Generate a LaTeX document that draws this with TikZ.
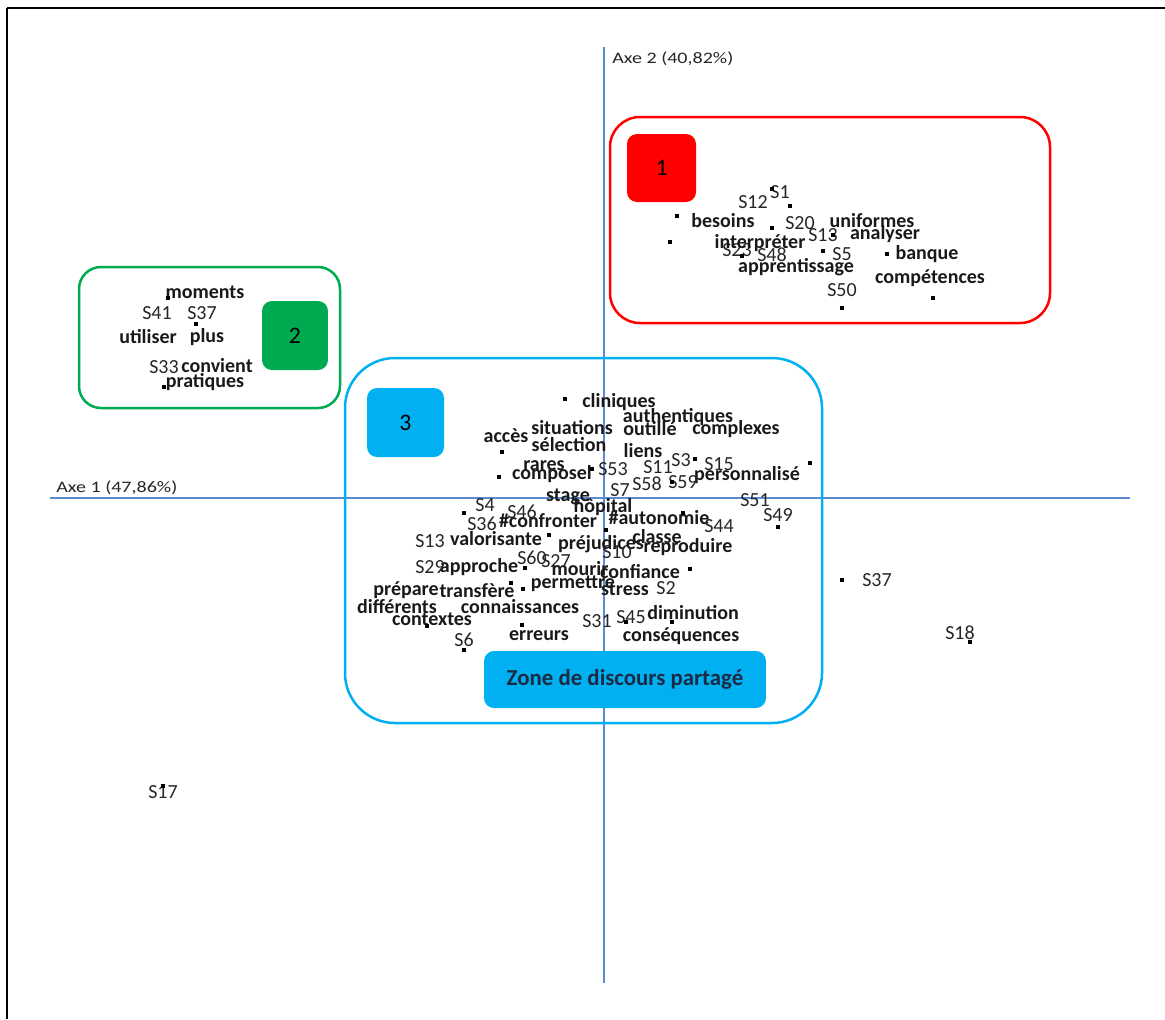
\documentclass[tikz,border=0pt]{standalone}
\usepackage{fontspec}
\setmainfont{Carlito}
\definecolor{axisblue}{HTML}{5B8BD0}
\definecolor{redA}{HTML}{FF0000}
\definecolor{greenA}{HTML}{00AA50}
\definecolor{blueA}{HTML}{00B0F0}
\definecolor{navy}{HTML}{1C2B45}
\newcommand\lblsize{\fontsize{11.38}{13}\selectfont}
\newcommand\axsize{\fontsize{11.4}{13}\selectfont}
\tikzset{
  wd/.style={font=\lblsize\bfseries, inner sep=0pt, text=black!90},
  sl/.style={font=\lblsize, inner sep=0pt, text=black!85},
  axlbl/.style={font=\axsize, inner sep=0pt, anchor=west, text=black!85},
  numbox/.style={rounded corners=0.2cm, inner sep=0pt, font=\fontsize{13.5}{15}\selectfont, text=black},
  axisline/.style={draw=axisblue, line width=0.03cm},
}
% a data point of the factor map
\newcommand\pt[1]{\fill[black] ($(#1)+(-1.6,-1.6)$) rectangle ++(3.2,3.2);}
\usetikzlibrary{calc}
\begin{document}
\begin{tikzpicture}[x=0.02cm,y=-0.02cm]
\useasboundingbox (0,0) rectangle (1165,1019);
% frame
\draw[black, line width=0.05cm] (7,8) -- (1165,8);
\draw[black, line width=0.03cm] (7,8) -- (7,1019);

% axes
\draw[axisline] (50,498) -- (1130,498);
\draw[axisline] (604,47) -- (604,983);
\node[axlbl] (ax1) at (56,488) {\scalebox{1}[0.8]{Axe 1 (47,86\%)}};
\node[axlbl] (ax2) at (612,59) {\scalebox{1}[0.8]{Axe 2 (40,82\%)}};

% cluster outlines
\draw[redA, line width=0.05cm, rounded corners=0.6cm] (610,117) rectangle (1050,323);
\draw[greenA, line width=0.05cm, rounded corners=0.44cm] (79,267) rectangle (340,408);
\draw[blueA, line width=0.05cm, rounded corners=1cm] (345,358) rectangle (822,723);

% cluster tags
\node[numbox, fill=redA, minimum width=1.38cm, minimum height=1.36cm] (t1) at (661.5,168) {1};
\node[numbox, fill=greenA, minimum width=1.32cm, minimum height=1.38cm] (t2) at (295,335.5) {2};
\node[numbox, fill=blueA, minimum width=1.54cm, minimum height=1.38cm] (t3) at (405.5,422.5) {3};
\node[numbox, fill=blueA, minimum width=5.64cm, minimum height=1.14cm, font=\fontsize{13}{15}\selectfont\bfseries, text=navy] (zone) at (625,679.5) {Zone de discours partagé};

% ---- class 1
\node[sl] (r-s12) at (753,202) {S12};
\node[sl] (r-s1) at (780,192) {S1};
\node[sl] (r-s20) at (800,223) {S20};
\node[sl] (r-s13) at (823,235) {S13};
\node[sl] (r-s23) at (737,250) {S23};
\node[sl] (r-s48) at (772,255) {S48};
\node[sl] (r-s5) at (842,254) {S5};
\node[sl] (r-s50) at (842,290) {S50};
\node[wd] (r-besoins) at (723,221) {besoins};
\node[wd] (r-uniformes) at (872,221) {uniformes};
\node[wd] (r-interpreter) at (760,243) {interpréter};
\node[wd] (r-analyser) at (885,234) {analyser};
\node[wd] (r-banque) at (927,254) {banque};
\node[wd] (r-apprentissage) at (796,267) {apprentissage};
\node[wd] (r-competences) at (930,278) {compétences};
\foreach \p in {{790,206},{772,189},{677,216},{772,228},{670,242},{833,235},{742,256},{823,251},{887,254},{842,308},{933,298}}
  {\pt{\p}}

% ---- class 2
\node[wd] (g-moments) at (205,292) {moments};
\node[sl] (g-s41) at (157,313) {S41};
\node[sl] (g-s37) at (202,313) {S37};
\node[wd] (g-utiliser) at (148,337) {utiliser};
\node[wd] (g-plus) at (207,337) {plus};
\node[sl] (g-s33) at (164,367) {S33};
\node[wd] (g-convient) at (217,366) {convient};
\node[wd] (g-pratiques) at (205,382) {pratiques};
\foreach \p in {{168,298},{196,324},{164,387}}
  {\pt{\p}}

% ---- class 3 (shared discourse)
\node[wd] (b-cliniques) at (619,402) {cliniques};
\node[wd] (b-authentiques) at (678,417) {authentiques};
\node[wd] (b-situations) at (572,428) {situations};
\node[wd] (b-outille) at (650,429) {outillé};
\node[wd] (b-complexes) at (736,429) {complexes};
\node[wd] (b-acces) at (506,436) {accès};
\node[wd] (b-selection) at (569,445) {sélection};
\node[wd] (b-liens) at (643,451) {liens};
\node[wd] (b-rares) at (544,466) {rares};
\node[wd] (b-composel) at (552,474) {composel};
\node[wd] (b-personnalise) at (747,475) {personnalisé};
\node[wd] (b-stage) at (568,497) {stage};
\node[wd] (b-hopital) at (603,507) {hôpital};
\node[wd] (b-confronter) at (548,521) {\#confronter};
\node[wd] (b-autonomie) at (659,518) {\#autonomie};
\node[wd] (b-valorisante) at (496,539) {valorisante};
\node[wd] (b-classe) at (657,537) {classe};
\node[wd] (b-prejudices) at (601,544) {préjudices};
\node[wd] (b-reproduire) at (688,547) {reproduire};
\node[wd] (b-approche) at (479,567) {approche};
\node[wd] (b-mourir) at (580,569) {mourir};
\node[wd] (b-confiance) at (640,572) {confiance};
\node[wd] (b-permettre) at (573,584) {permettre};
\node[wd] (b-prepare) at (406,590) {prépare};
\node[wd] (b-transfere) at (477,591) {transfère};
\node[wd] (b-stress) at (625,589) {stress};
\node[wd] (b-differents) at (397,607) {différents};
\node[wd] (b-connaissances) at (520,607) {connaissances};
\node[wd] (b-diminution) at (693,613) {diminution};
\node[wd] (b-contextes) at (432,619) {contextes};
\node[wd] (b-erreurs) at (539,636) {erreurs};
\node[wd] (b-consequences) at (681,636) {conséquences};

\node[sl] (b-s53) at (613,469) {S53};
\node[sl] (b-s11) at (658,467) {S11};
\node[sl] (b-s3) at (681,460) {S3};
\node[sl] (b-s15) at (719,464) {S15};
\node[sl] (b-s58) at (647,484) {S58};
\node[sl] (b-s59) at (683,482) {S59};
\node[sl] (b-s7) at (620,490) {S7};
\node[sl] (b-s51) at (755,500) {S51};
\node[sl] (b-s4) at (485,505) {S4};
\node[sl] (b-s46) at (522,512) {S46};
\node[sl] (b-s36) at (482,524) {S36};
\node[sl] (b-s49) at (778,515) {S49};
\node[sl] (b-s44) at (719,526) {S44};
\node[sl] (b-s13) at (430,541) {S13};
\node[sl] (b-s10) at (617,552) {S10};
\node[sl] (b-s60) at (532,558) {S60};
\node[sl] (b-s27) at (556,561) {S27};
\node[sl] (b-s29) at (430,567) {S29};
\node[sl] (b-s2) at (666,588) {S2};
\node[sl] (b-s45) at (631,617) {S45};
\node[sl] (b-s31) at (597,621) {S31};
\node[sl] (b-s6) at (464,640) {S6};
\foreach \p in {{565,399},{502,452},{499,477},{592,469},{695,459},{810,463},{672,482},{464,513},{549,535},{683,513},{778,527},{606,530},{525,568},{511,583},{523,589},{690,569},{427,626},{522,625},{464,650},{626,622},{672,622}}
  {\pt{\p}}

% ---- outlying individuals
\node[sl] (o-s37) at (877,580) {S37};
\node[sl] (o-s18) at (960,633) {S18};
\node[sl] (o-s17) at (163,792) {S17};
\foreach \p in {{842,580},{970,642},{163,786}}
  {\pt{\p}}
\end{tikzpicture}
\end{document}
